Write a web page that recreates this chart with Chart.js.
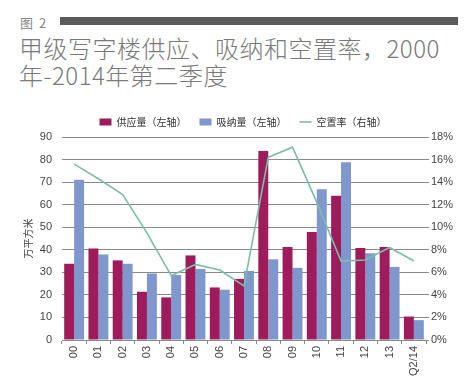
<!DOCTYPE html>
<html>
<head>
<meta charset="utf-8">
<script src="https://cdn.jsdelivr.net/npm/chart.js@4"></script>
<style>
  body { margin: 0; background: #fff; width: 466px; height: 381px; overflow: hidden; position: relative; }
  .fig { position: absolute; left: 20px; top: 13px; font: 13px "Noto Sans CJK SC", sans-serif; color: #888; word-spacing: 3px; }
  .bar { position: absolute; left: 60px; top: 17px; width: 398px; height: 8px; background: #5a5a5a; }
  .title { position: absolute; left: 19px; top: 34px; font: 300 24px "Noto Sans CJK SC", sans-serif; color: #7a7a7a; line-height: 27px; letter-spacing: 0.5px; }
  #wrap { position: absolute; left: 0; top: 0; width: 466px; height: 381px; }
</style>
</head>
<body>
<div class="fig">图 2</div>
<div class="bar"></div>
<div class="title">甲级写字楼供应、吸纳和空置率，2000<br>年-2014年第二季度</div>
<div id="wrap"><canvas id="chart"></canvas></div>
<script>
const years = ['00', '01', '02', '03', '04', '05', '06', '07', '08', '09', '10', '11', '12', '13', 'Q2/14'];
const supply = [33.8, 40.6, 35.3, 21.4, 18.9, 37.5, 23.3, 27.1, 83.8, 41.2, 47.9, 64.0, 40.8, 41.2, 10.4];
const absorption = [71.1, 37.9, 33.8, 29.5, 28.8, 31.5, 22.3, 30.6, 35.8, 32.0, 66.8, 78.8, 38.5, 32.4, 8.8];
const vacancy = [15.6, 14.3, 12.9, 9.5, 5.7, 6.7, 6.2, 4.8, 16.2, 17.1, 12.2, 7.0, 7.1, 8.2, 7.0];

const gridColor = '#8a8a8a';
const tickFont = { family: 'Liberation Sans, Arial, sans-serif', size: 11 };

document.addEventListener('DOMContentLoaded', function () {
    const ctx = document.getElementById('chart').getContext('2d');

    new Chart(ctx, {
        data: {
            labels: years,
            datasets: [
                {
                    type: 'bar',
                    label: '供应量（左轴）',
                    data: supply,
                    backgroundColor: '#9e1c5c',
                    yAxisID: 'y',
                    pointStyle: 'rect',
                    order: 2
                },
                {
                    type: 'bar',
                    label: '吸纳量（左轴）',
                    data: absorption,
                    backgroundColor: '#7e97cd',
                    yAxisID: 'y',
                    pointStyle: 'rect',
                    order: 2
                },
                {
                    type: 'line',
                    label: '空置率（右轴）',
                    data: vacancy,
                    borderColor: '#7dbcab',
                    backgroundColor: '#7dbcab',
                    borderWidth: 1.6,
                    pointRadius: 0,
                    tension: 0,
                    yAxisID: 'y1',
                    pointStyle: 'line',
                    order: 1
                }
            ]
        },
        options: {
            responsive: true,
            maintainAspectRatio: false,
            animation: false,
            layout: { padding: { top: 104, left: 20, right: 0, bottom: 0 } },
            datasets: {
                bar: { categoryPercentage: 0.82, barPercentage: 1.0 }
            },
            plugins: {
                legend: {
                    position: 'top',
                    labels: {
                        usePointStyle: true,
                        pointStyleWidth: 12,
                        boxHeight: 7,
                        padding: 13,
                        color: '#333',
                        font: { family: 'Noto Sans CJK SC, sans-serif', size: 10 },
                        sort: function (a, b) { return a.datasetIndex - b.datasetIndex; }
                    }
                },
                tooltip: { enabled: false }
            },
            scales: {
                x: {
                    grid: {
                        display: true,
                        drawOnChartArea: false,
                        drawTicks: true,
                        tickLength: 4,
                        color: gridColor
                    },
                    border: { display: true, color: gridColor },
                    ticks: {
                        color: '#444',
                        font: tickFont,
                        maxRotation: 90,
                        minRotation: 90,
                        padding: 2
                    },
                    afterFit: function (scale) { scale.height = 41; }
                },
                y: {
                    position: 'left',
                    min: 0,
                    max: 90,
                    ticks: { stepSize: 10, color: '#444', font: tickFont, padding: 10 },
                    grid: { color: gridColor, drawTicks: false },
                    border: { display: false },
                    title: {
                        display: true,
                        text: '万平方米',
                        color: '#444',
                        font: { family: 'Noto Sans CJK SC, sans-serif', size: 10 },
                        padding: 2
                    },
                    afterFit: function (scale) { scale.width = 42; }
                },
                y1: {
                    position: 'right',
                    min: 0,
                    max: 18,
                    ticks: {
                        stepSize: 2,
                        color: '#444',
                        font: tickFont,
                        padding: 2,
                        callback: function (v) { return v + '%'; }
                    },
                    grid: { drawOnChartArea: false, drawTicks: true, tickLength: 3, color: gridColor },
                    border: { display: false },
                    afterFit: function (scale) { scale.width = 40; }
                }
            }
        }
    });
});
</script>
</body>
</html>
